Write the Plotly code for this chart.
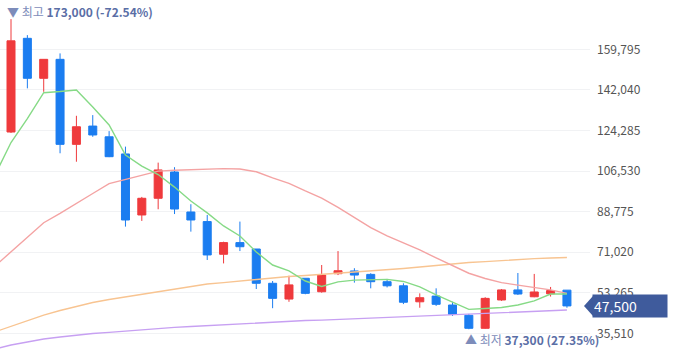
import plotly.graph_objects as go

# ---- data ----
idx = list(range(36))
opens = [111400, 123600, 164600, 147100, 155400, 118200, 126200, 121500, 114000, 87300,
         94600, 106100, 88600, 84400, 70100, 75200, 72400, 57400, 50500, 59600,
         53700, 61600, 62800, 61300, 58100, 56300, 49300, 51800, 47900, 43400,
         37700, 50100, 54500, 51500, 52800, 54400]
highs = [123600, 173000, 166000, 155400, 158000, 130700, 131000, 124000, 117200, 95200,
         110200, 108200, 92000, 87300, 75600, 84400, 72400, 58400, 60700, 59600,
         65400, 71500, 64000, 61800, 59300, 57400, 53000, 55200, 49300, 44000,
         51300, 54900, 61900, 61500, 55800, 54400]
lows = [111400, 123200, 142700, 141200, 114300, 110600, 121500, 112600, 82200, 84700,
        89800, 87700, 80000, 67600, 66100, 71500, 54900, 46500, 49300, 52600,
        53300, 61000, 57700, 55200, 55600, 48300, 46700, 47500, 43100, 37300,
        37500, 49700, 52300, 51300, 51600, 46700]
closes = [123600, 163500, 147100, 155400, 118200, 125900, 122300, 112800, 85100, 94600,
          107000, 89900, 85100, 69800, 75200, 73400, 57400, 50800, 56700, 53000,
          61000, 62900, 61000, 58100, 56300, 49100, 51100, 48200, 43800, 37700,
          50800, 54500, 52700, 53600, 54200, 47500]

ma5 = [104500, 119000, 129500, 140800, 141300, 142000, 134500, 126700, 113500, 108700,
       105000, 99500, 93400, 88200, 82500, 78100, 71100, 65400, 62800, 58400,
       56000, 58000, 58800, 59100, 59100, 58200, 55800, 52300, 49000, 46000,
       46400, 46800, 47900, 49700, 52700, 52700]
ma20 = [64800, 71100, 77500, 83900, 88000, 92500, 96700, 101000, 102900, 104800,
        106500, 106900, 107200, 107600, 107600, 107400, 106200, 103500, 101100, 97800,
        94700, 90600, 86200, 81800, 78100, 75000, 72000, 68500, 65000, 61800,
        59500, 57700, 56600, 55600, 54500, 53000]
ma60 = [36100, 38500, 41100, 43500, 45500, 47200, 49000, 50300, 51400, 52700,
        53800, 54900, 56000, 57100, 57700, 58400, 59100, 59700, 60400, 60800,
        61300, 61700, 62100, 62800, 63400, 63900, 64500, 65200, 65800, 66500,
        66900, 67400, 67800, 68200, 68500, 68700]
ma120 = [28600, 30400, 31700, 33000, 33900, 34800, 35400, 35900, 36500, 37200,
         37600, 38100, 38500, 38900, 39400, 39800, 40000, 40500, 40900, 41100,
         41300, 41600, 41800, 42200, 42700, 42900, 43100, 43500, 43700, 44200,
         44400, 44800, 45100, 45300, 45500, 45700]

tick_vals = [35510, 53265, 71020, 88775, 106530, 124285, 142040, 159795]
tick_text = ["35,510", "53,265", "71,020", "88,775", "106,530", "124,285", "142,040", "159,795"]

high_label = "173,000 (-72.54%)"
low_label = "37,300 (27.35%)"
high_idx = 1
low_idx = 29

RED = "#ef3a3c"
BLUE = "#1b7df0"
FONT = "Noto Sans CJK KR"

fig = go.Figure()

ma_styles = [(ma120, "#c7a0f2"), (ma60, "#f8c491"), (ma20, "#f4a3a3"), (ma5, "#86da86")]
for vals, col in ma_styles:
    fig.add_trace(go.Scatter(x=idx, y=vals, mode="lines",
                             line=dict(color=col, width=1.4), hoverinfo="skip"))

fig.add_trace(go.Candlestick(
    x=idx, open=opens, high=highs, low=lows, close=closes,
    increasing=dict(line=dict(color=RED, width=1), fillcolor=RED),
    decreasing=dict(line=dict(color=BLUE, width=1), fillcolor=BLUE),
    whiskerwidth=0,
))

fig.update_layout(
    width=680, height=356,
    margin=dict(l=0, r=90, t=0, b=0),
    paper_bgcolor="white", plot_bgcolor="white",
    showlegend=False,
    boxgap=0.3,
    xaxis=dict(range=[0.327, 36.41], visible=False, rangeslider=dict(visible=False)),
    yaxis=dict(range=[25583, 181369], side="right", tickvals=tick_vals, ticktext=tick_text,
               showgrid=True, gridcolor="#f1f2f4", gridwidth=1, zeroline=False,
               showline=False, ticks="", ticklabelstandoff=6,
               tickfont=dict(family=FONT, size=12, color="#555555")),
    font=dict(family=FONT),
)

# high / low annotations
fig.add_annotation(x=high_idx, y=highs[high_idx], xref="x", yref="y",
                   text="<span style='color:#7d8cba'>▼ 최고</span> <b>" + high_label + "</b>",
                   showarrow=False, xanchor="left", yanchor="bottom", xshift=-6, yshift=-3,
                   font=dict(family=FONT, size=12, color="#5a6ea6"))
fig.add_annotation(x=low_idx, y=lows[low_idx], xref="x", yref="y",
                   text="<span style='color:#7d8cba'>▲ 최저</span> <b>" + low_label + "</b>",
                   showarrow=False, xanchor="left", yanchor="top", xshift=-6, yshift=0,
                   font=dict(family=FONT, size=12, color="#5a6ea6"))

# current price tag
TAG = "#3f5b9c"
fig.add_annotation(x=1, y=closes[-1], xref="paper", yref="y",
                   text="47,500", showarrow=False, xanchor="left", yanchor="middle",
                   xshift=2, width=72, align="left", bgcolor=TAG, borderpad=1,
                   font=dict(family=FONT, size=14, color="white"))
fig.add_shape(type="path", xref="paper", yref="y", xsizemode="pixel", ysizemode="pixel",
              xanchor=1, yanchor=closes[-1],
              path="M -6 0 L 3 -10 L 3 10 Z", fillcolor=TAG, line=dict(width=0))

fig.write_html("out.html", config={"displayModeBar": False},
               post_script="document.body.style.margin='0';")
